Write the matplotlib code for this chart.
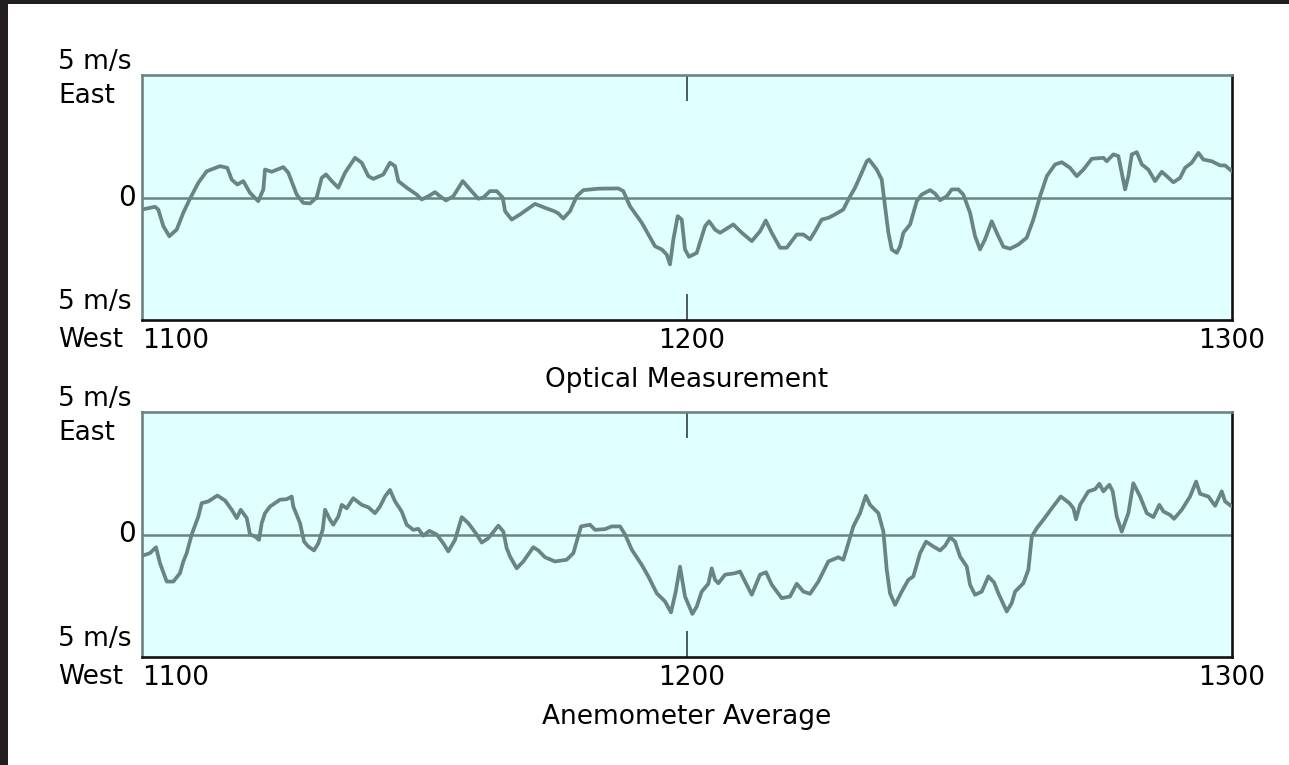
import matplotlib
matplotlib.use("Agg")
import matplotlib.pyplot as plt
from matplotlib.patches import Rectangle
import matplotlib.transforms as mtransforms

# ---------------- data (minutes after 1100, wind speed m/s; + = East) ----------------
optical_t = [0.0, 1.43, 1.79, 2.35, 3.01, 3.82, 4.55, 5.28, 6.20, 7.12, 8.59, 9.39, 9.88, 10.49,
             11.15, 11.89, 12.80, 13.36, 13.54, 14.28, 15.56, 16.11, 17.03, 17.76, 18.50, 19.23,
             19.78, 20.26, 20.89, 21.61, 22.35, 23.45, 24.19, 24.92, 25.47, 26.57, 27.30, 27.86,
             28.22, 29.14, 30.24, 30.79, 31.52, 32.26, 32.81, 33.47, 34.27, 35.31, 36.11, 37.03,
             37.58, 38.31, 39.05, 39.71, 39.97, 40.70, 41.62, 43.27, 44.37, 45.39, 45.84, 46.38,
             47.12, 47.86, 48.59, 50.24, 52.44, 52.99, 53.73, 55.02, 56.48, 57.22, 57.77, 58.13,
             58.50, 58.98, 59.42, 59.78, 60.22, 61.07, 61.99, 62.43, 63.09, 63.64, 65.10, 66.03,
             67.13, 68.04, 68.67, 69.33, 70.24, 70.98, 72.08, 72.81, 73.55, 74.10, 74.83, 75.56,
             76.30, 77.21, 77.76, 78.50, 79.24, 79.79, 80.04, 80.89, 81.44, 81.80, 82.17, 82.54,
             83.09, 83.46, 83.82, 84.56, 85.29, 85.84, 86.76, 87.31, 87.86, 88.60, 89.15, 89.87,
             90.42, 91.16, 91.71, 92.26, 92.81, 93.55, 94.10, 94.83, 95.57, 96.48, 97.40, 98.13,
             98.87, 99.61, 100.52, 101.26, 102.17, 102.91, 103.64, 104.56, 105.84, 106.21, 106.94,
             107.49, 107.86, 108.23, 108.59, 108.97, 109.52, 110.07, 110.79, 111.53, 112.27,
             112.82, 113.55, 114.28, 114.83, 115.57, 116.30, 116.85, 117.77, 118.69, 119.24, 120.0]
optical_v = [-0.49, -0.38, -0.49, -1.17, -1.58, -1.31, -0.62, -0.05, 0.60, 1.07, 1.28, 1.21, 0.73,
             0.53, 0.67, 0.19, -0.15, 0.33, 1.14, 1.05, 1.24, 1.01, 0.12, -0.22, -0.24, 0.0, 0.80,
             0.94, 0.67, 0.40, 1.01, 1.62, 1.42, 0.87, 0.76, 0.94, 1.42, 1.28, 0.67, 0.40, 0.12,
             -0.08, 0.05, 0.22, 0.05, -0.12, 0.05, 0.67, 0.33, -0.05, 0.0, 0.26, 0.26, 0.0, -0.56,
             -0.90, -0.69, -0.26, -0.42, -0.56, -0.65, -0.86, -0.56, 0.05, 0.30, 0.36, 0.37, 0.26,
             -0.36, -1.03, -1.99, -2.12, -2.33, -2.73, -1.71, -0.76, -0.90, -2.12, -2.42, -2.26,
             -1.17, -0.97, -1.31, -1.44, -1.10, -1.44, -1.78, -1.38, -0.94, -1.44, -2.05, -2.05,
             -1.51, -1.51, -1.71, -1.38, -0.90, -0.83, -0.69, -0.49, -0.08, 0.40, 1.01, 1.48, 1.55,
             1.14, 0.73, -0.36, -1.44, -2.12, -2.26, -1.99, -1.44, -1.10, -0.15, 0.12, 0.30, 0.16,
             -0.11, 0.05, 0.33, 0.33, 0.12, -0.62, -1.58, -2.12, -1.71, -0.97, -1.44, -2.01, -2.09,
             -1.92, -1.64, -0.90, 0.05, 0.87, 1.35, 1.44, 1.21, 0.87, 1.14, 1.58, 1.62, 1.48, 1.76,
             1.69, 1.01, 0.33, 0.87, 1.76, 1.85, 1.35, 1.14, 0.67, 1.05, 0.87, 0.62, 0.80, 1.21,
             1.42, 1.82, 1.55, 1.48, 1.31, 1.31, 1.07]

anemo_t = [0.0, 0.88, 1.54, 1.98, 2.72, 3.45, 4.18, 4.55, 4.92, 5.47, 6.20, 6.57, 7.30, 8.29, 9.14,
           9.88, 10.43, 10.87, 11.53, 11.89, 12.44, 12.88, 13.18, 13.54, 14.09, 15.19, 15.93, 16.48,
           16.66, 17.40, 17.84, 18.31, 18.94, 19.41, 19.89, 20.15, 20.70, 21.06, 21.61, 21.99, 22.54,
           23.26, 24.19, 24.92, 25.65, 26.20, 26.75, 27.30, 27.86, 28.59, 29.14, 29.87, 30.42, 30.97,
           31.63, 32.45, 33.17, 33.72, 34.46, 35.20, 35.93, 36.85, 37.40, 38.13, 39.23, 39.78, 40.15,
           40.52, 41.25, 41.98, 43.08, 43.63, 44.37, 45.47, 46.76, 47.49, 48.33, 49.32, 49.88, 50.98,
           51.71, 52.63, 53.18, 53.92, 55.02, 55.74, 56.67, 57.58, 58.24, 58.76, 59.23, 59.78, 60.59,
           61.07, 61.62, 62.35, 62.72, 63.09, 63.45, 64.19, 65.29, 65.84, 66.39, 67.13, 68.04, 68.70,
           69.33, 70.43, 71.34, 72.08, 72.81, 73.55, 74.46, 75.56, 76.66, 77.21, 77.76, 78.31, 79.05,
           79.68, 80.15, 81.07, 81.62, 81.99, 82.35, 82.91, 83.64, 84.37, 84.92, 85.66, 86.32, 87.12,
           87.86, 88.41, 88.96, 89.51, 90.06, 90.80, 91.16, 91.71, 92.45, 93.18, 93.81, 94.28, 95.20,
           95.75, 96.12, 97.03, 97.58, 97.96, 98.51, 99.23, 100.16, 101.15, 102.10, 102.54, 102.83,
           103.27, 104.19, 104.93, 105.40, 105.84, 106.50, 106.87, 107.31, 107.86, 108.59, 109.14,
           109.88, 110.62, 111.34, 112.00, 112.45, 113.18, 113.62, 114.47, 115.38, 116.05, 116.49,
           117.40, 118.14, 118.87, 119.24, 120.0]
anemo_v = [-0.87, -0.76, -0.52, -1.17, -1.92, -1.92, -1.58, -1.10, -0.76, 0.0, 0.73, 1.28, 1.35,
           1.59, 1.39, 1.01, 0.67, 1.01, 0.67, 0.0, -0.08, -0.22, 0.46, 0.87, 1.14, 1.42, 1.44, 1.55,
           1.14, 0.46, -0.29, -0.49, -0.65, -0.36, 0.19, 1.01, 0.60, 0.40, 0.73, 1.21, 1.07, 1.48,
           1.21, 1.11, 0.87, 1.14, 1.55, 1.82, 1.35, 0.94, 0.40, 0.19, 0.23, -0.05, 0.15, 0.0, -0.36,
           -0.69, -0.22, 0.71, 0.46, 0.0, -0.33, -0.15, 0.36, 0.12, -0.56, -0.90, -1.38, -1.10, -0.52,
           -0.65, -0.93, -1.10, -1.03, -0.76, 0.33, 0.40, 0.19, 0.22, 0.33, 0.33, 0.0, -0.62, -1.24,
           -1.71, -2.40, -2.73, -3.18, -2.33, -1.31, -2.53, -3.24, -2.94, -2.33, -2.01, -1.38, -1.85,
           -1.99, -1.64, -1.58, -1.51, -1.92, -2.46, -1.64, -1.54, -2.05, -2.60, -2.53, -2.01, -2.33,
           -2.42, -1.92, -1.10, -0.93, -1.03, -0.36, 0.33, 0.87, 1.58, 1.21, 0.87, 0.12, -1.44, -2.40,
           -2.87, -2.33, -1.85, -1.71, -0.76, -0.29, -0.49, -0.65, -0.46, -0.11, -0.29, -0.90, -1.31,
           -2.05, -2.46, -2.33, -1.71, -1.96, -2.40, -3.14, -2.80, -2.33, -1.99, -1.44, -0.08, 0.26,
           0.60, 1.07, 1.55, 1.28, 1.07, 0.62, 1.21, 1.76, 1.85, 2.07, 1.76, 2.03, 1.76, 0.73, 0.12,
           0.87, 2.09, 1.55, 0.87, 0.71, 1.21, 0.94, 0.80, 0.64, 1.01, 1.55, 2.16, 1.66, 1.55, 1.17,
           1.76, 1.35, 1.14]

tick_positions = [0, 60, 120]
tick_labels = ["1100", "1200", "1300"]
panel_titles = ["Optical Measurement", "Anemometer Average"]
y_limit = 5.0

# ---------------- style ----------------
W, H = 1289, 765
BG = "#e0ffff"
TRACE = "#6a8482"
DARK = "#111111"
FS = 19

plt.rcParams['font.family'] = ['DejaVu Sans']
fig = plt.figure(figsize=(W / 100, H / 100), dpi=100)
fig.patch.set_facecolor("white")

# dark scan border (top and left)
fig.patches.append(Rectangle((0, 1 - 4 / H), 1, 4 / H, transform=fig.transFigure,
                             facecolor="#231f20", edgecolor="none", zorder=0))
fig.patches.append(Rectangle((0, 0), 8 / W, 1, transform=fig.transFigure,
                             facecolor="#231f20", edgecolor="none", zorder=0))

left = 142 / W
width = (1232 - 142) / W
panels = [(75, 320), (412, 657)]
series = [(optical_t, optical_v), (anemo_t, anemo_v)]

for (ytop, ybot), (t, v), title in zip(panels, series, panel_titles):
    ax = fig.add_axes([left, 1 - ybot / H, width, (ybot - ytop) / H])
    ax.set_facecolor(BG)
    ax.set_xlim(tick_positions[0], tick_positions[-1])
    ax.set_ylim(-y_limit, y_limit)
    ax.axhline(0, color=TRACE, lw=1.8, zorder=2)
    ax.plot(t, v, color=TRACE, lw=2.7, solid_joinstyle="round", solid_capstyle="round", zorder=3)

    for s in ["top", "left"]:
        ax.spines[s].set_color(TRACE)
        ax.spines[s].set_linewidth(1.9)
    for s in ["bottom", "right"]:
        ax.spines[s].set_color(DARK)
        ax.spines[s].set_linewidth(1.9)

    ax.set_yticks([])
    ax.set_xticks([tick_positions[1]])
    ax.set_xticklabels([])
    ax.tick_params(axis="x", direction="in", top=True, bottom=True, length=19,
                   width=1.3, color="#3f4f4e")

    xt = ax.get_xaxis_transform()
    lab_y = -0.085
    ax.text(tick_positions[0], lab_y, tick_labels[0], transform=xt, ha="left", va="center",
            fontsize=FS)
    ax.text(tick_positions[1] + 0.5, lab_y, tick_labels[1], transform=xt, ha="center",
            va="center", fontsize=FS)
    ax.text(tick_positions[2], lab_y, tick_labels[2], transform=xt, ha="center", va="center",
            fontsize=FS)
    ax.text(tick_positions[1], -0.245, title, transform=xt, ha="center", va="center",
            fontsize=FS)

    yt = mtransforms.blended_transform_factory(ax.transAxes, ax.transData)
    lx = -(142 - 58) / (1232 - 142)
    ax.text(lx, 1.0 + 13 / 245, "5 m/s", transform=ax.transAxes, ha="left",
            va="center", fontsize=FS)
    ax.text(lx, 1.0 - 21 / 245, "East", transform=ax.transAxes, ha="left", va="center",
            fontsize=FS)
    ax.text(-6 / 1090, 0, "0", transform=yt, ha="right", va="center", fontsize=FS + 1)
    ax.text(lx, 18 / 245, "5 m/s", transform=ax.transAxes, ha="left", va="center",
            fontsize=FS)
    ax.text(lx, -20 / 245, "West", transform=ax.transAxes, ha="left", va="center",
            fontsize=FS)

fig.savefig("out.png", dpi=100, facecolor=fig.get_facecolor())
